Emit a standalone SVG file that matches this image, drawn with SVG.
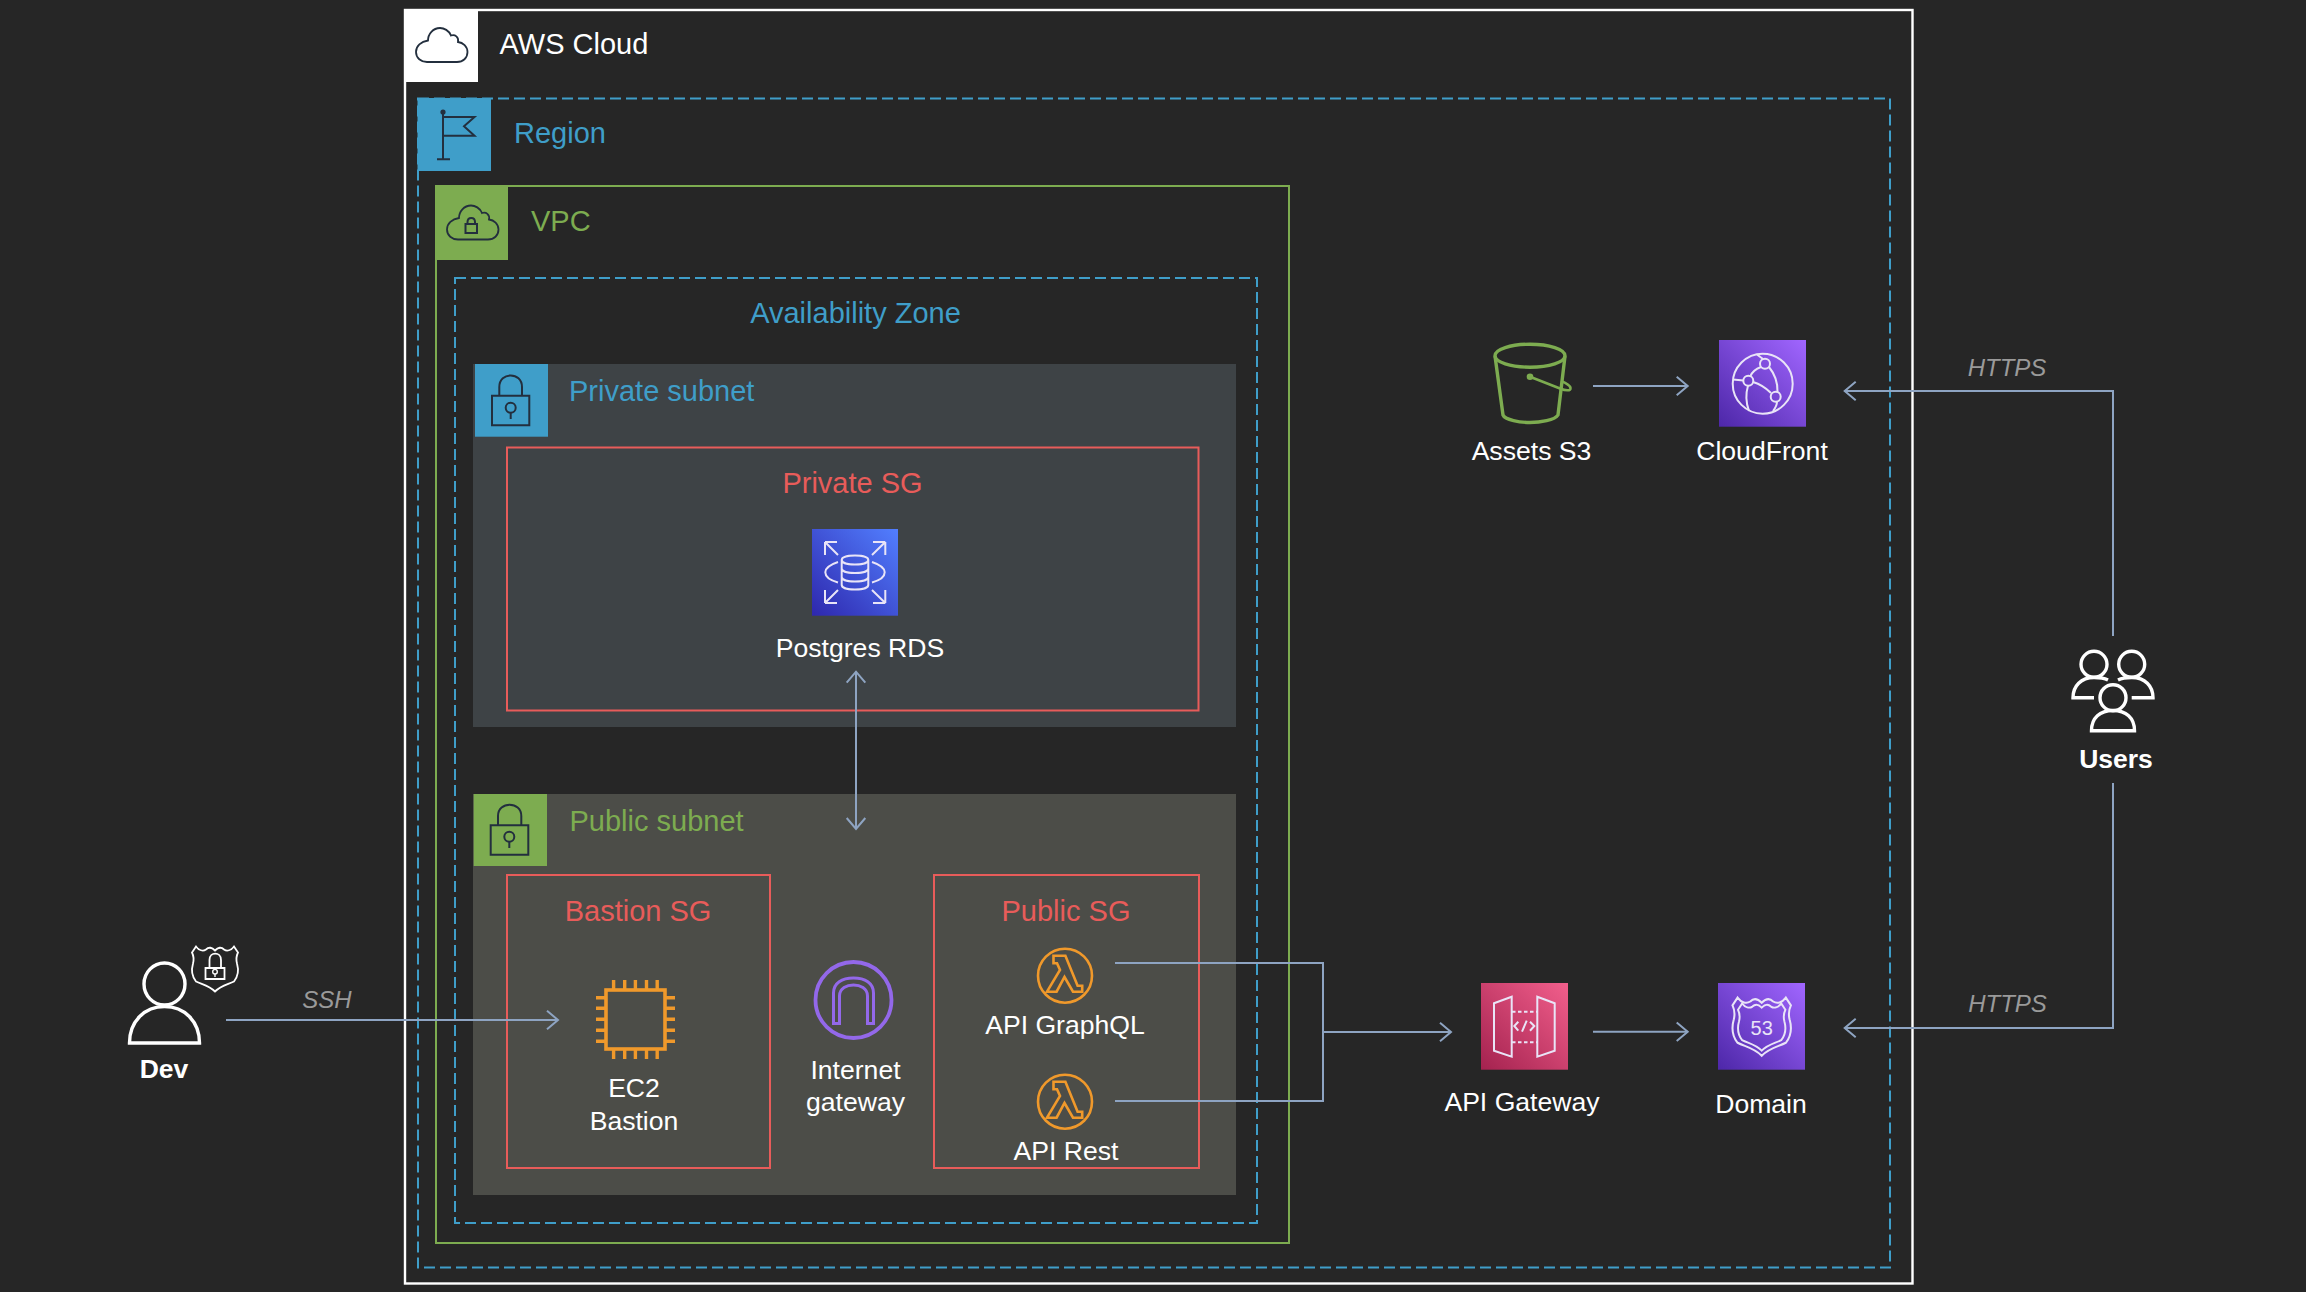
<svg xmlns="http://www.w3.org/2000/svg" width="2306" height="1292" viewBox="0 0 2306 1292">
<style>
text{font-family:"Liberation Sans",Arial,Helvetica,sans-serif}
.t{font-size:29px}
.l{font-size:26.6px;fill:#fff;text-anchor:middle}
.b{font-size:26.5px;font-weight:700;fill:#fff;text-anchor:middle}
.i{font-size:24px;font-style:italic;fill:#9a9a9a;text-anchor:middle}
.sg{fill:none;stroke:#e85c5a;stroke-width:2}
.sgt{fill:#e85c5a;text-anchor:middle}
.dash{fill:none;stroke:#3f9ec9;stroke-width:2;stroke-dasharray:11 5}
.ic{fill:none;stroke:#232f3e;stroke-width:2}
.wi{fill:none;stroke:#fff;stroke-width:3.4}
.gl{fill:none;stroke:#e9e4f7;stroke-width:2}
.or{fill:none;stroke:#f0992b;stroke-width:2.6}
.conn{fill:none;stroke:#8ea4c2;stroke-width:2}
</style>
<defs>
<marker id="ah" markerUnits="userSpaceOnUse" viewBox="-14 -11 16 22" refX="0" refY="0" markerWidth="16" markerHeight="22" orient="auto-start-reverse" overflow="visible"><path d="M-11,-9.3 L0,0 L-11,9.3" fill="none" stroke="#8ea4c2" stroke-width="2"/></marker>
<linearGradient id="gBlue" x1="0" y1="1" x2="1" y2="0"><stop offset="0" stop-color="#2e27ad"/><stop offset="1" stop-color="#527fff"/></linearGradient>
<linearGradient id="gPurple" x1="0" y1="1" x2="1" y2="0"><stop offset="0" stop-color="#4d27a8"/><stop offset="1" stop-color="#a166ff"/></linearGradient>
<linearGradient id="gPink" x1="0" y1="1" x2="1" y2="0"><stop offset="0" stop-color="#a4224f"/><stop offset="1" stop-color="#f25f8c"/></linearGradient>
<path id="cloud" d="M11,34 H41 C47,34 51.500,30 51.500,24 C51.500,18.500 47,14.500 42,14 C43,9 39,6 35,7.500 C33,2.500 28,0 24,0 C17,0 12,6 12,12.500 C5,13.500 0,18 0,24 C0,30 5,34 11,34 Z"/>
<g id="lambda"><circle cx="0" cy="0" r="27" class="or"/><path class="or" stroke-width="2.2" d="M-11.500,-20 H0.400 L12.600,10 H17.200 V16 H8 L-0.500,1.300 L-8.400,16 H-18 L-5,-5.700 L-8,-12.400 H-11.500 Z"/></g>
<path id="shield" d="M0,-18 C3,-21 6,-22 9,-19 C12,-17 16,-18 19,-22 L23,-16 C21,-12 21,-9 22,-5 C24,2 23,8 19,13 C13,16 6,17 0,23 C-6,17 -13,16 -19,13 C-23,8 -24,2 -22,-5 C-21,-9 -21,-12 -23,-16 L-19,-22 C-16,-18 -12,-17 -9,-19 C-6,-22 -3,-21 0,-18 Z"/>
</defs>
<rect width="2306" height="1292" fill="#262626"/>

<g id="aws-cloud">
<rect x="405" y="10" width="1507.500" height="1273.500" fill="none" stroke="#fff" stroke-width="2.400"/>
<rect x="404" y="9" width="74" height="73" fill="#fff"/>
<use href="#cloud" x="416" y="28" fill="none" stroke="#232f3e" stroke-width="1.800"/>
<text x="499.500" y="54" class="t" fill="#fff">AWS Cloud</text>
</g>

<g id="region">
<rect x="418" y="98.500" width="1472" height="1169" class="dash"/>
<rect x="417.500" y="98" width="73.500" height="73" fill="#3f9ec9"/>
<path class="ic" d="M443,112 V159.300 M437,159.300 H450 M443,117 H474.500 L464,126.300 L474.500,135.700 H443"/>
<circle cx="443" cy="112" r="2.600" fill="#232f3e"/>
<text x="514" y="143" class="t" fill="#3f9ec9">Region</text>
</g>

<g id="vpc">
<rect x="436" y="186" width="853" height="1057" fill="none" stroke="#7dac50" stroke-width="2"/>
<rect x="435" y="185" width="73" height="75" fill="#7dac50"/>
<use href="#cloud" x="447" y="205.500" fill="none" stroke="#232f3e" stroke-width="1.800"/>
<path class="ic" stroke-width="1.600" d="M465.500,224 H477 V233 H465.500 Z M467.500,224 V222 C467.500,216.500 475,216.500 475,222 V224"/>
<text x="531" y="231" class="t" fill="#7dac50">VPC</text>
</g>

<g id="availability-zone">
<rect x="455" y="278" width="802" height="945" class="dash"/>
<text x="855.500" y="323" class="t" fill="#3f9ec9" text-anchor="middle">Availability Zone</text>
</g>

<g id="private-subnet">
<rect x="473" y="364" width="763" height="363" fill="#3e4346"/>
<rect x="475" y="364" width="73" height="72.700" fill="#3f9ec9"/>
<path class="ic" d="M492,395.700 H529.300 V425.300 H492 Z M499.300,395.700 V387 C499.300,371.500 522,371.500 522,387 V395.700"/>
<circle cx="510.700" cy="407.700" r="5" class="ic"/><path class="ic" d="M510.700,412.700 V419"/>
<text x="569" y="401" class="t" fill="#3f9ec9">Private subnet</text>
</g>

<g id="private-sg">
<rect x="507" y="447.500" width="691.500" height="263" class="sg"/>
<text x="852.500" y="493" class="t sgt">Private SG</text>
</g>

<g id="postgres-rds">
<rect x="812" y="529" width="86" height="86.700" fill="url(#gBlue)"/>
<path class="gl" d="M841.700,560 V585 C841.700,591 868.300,591 868.300,585 V560 M841.700,560 C841.700,554 868.300,554 868.300,560 C868.300,566 841.700,566 841.700,560 Z M841.700,568.500 C841.700,574.500 868.300,574.500 868.300,568.500 M841.700,577 C841.700,583 868.300,583 868.300,577 M838,562 C829,565 825.300,569 825.300,572.300 C825.300,576 829,580 838,582.500 M872,562 C881,565 884.700,569 884.700,572.300 C884.700,576 881,580 872,582.500"/>
<path class="gl" d="M825,542 L838,555 M825,542 H837 M825,542 V555 M885.300,542 L872,555 M885.300,542 H873 M885.300,542 V555 M825,603 L838,590 M825,603 H837 M825,603 V590 M885.300,603 L872,590 M885.300,603 H873 M885.300,603 V590"/>
<text x="860" y="657" class="l">Postgres RDS</text>
</g>

<g id="public-subnet">
<rect x="473" y="794" width="763" height="401" fill="#4c4d48"/>
<rect x="473.700" y="794" width="73.300" height="72" fill="#7dac50"/>
<path class="ic" d="M490.700,825.300 H528.300 V854.700 H490.700 Z M498,825.300 V816 C498,801 521.300,801 521.300,816 V825.300"/>
<circle cx="509.300" cy="836.700" r="5" class="ic"/><path class="ic" d="M509.300,841.700 V848"/>
<text x="569.500" y="830.500" class="t" fill="#7dac50">Public subnet</text>
</g>

<g id="bastion-sg">
<rect x="507" y="875" width="263" height="293" class="sg"/>
<text x="638" y="921" class="t sgt">Bastion SG</text>
</g>

<g id="public-sg">
<rect x="934" y="875" width="265" height="293" class="sg"/>
<text x="1066" y="921" class="t sgt">Public SG</text>
</g>

<g id="ec2-bastion">
<rect x="606" y="990" width="59" height="59" fill="none" stroke="#f0992b" stroke-width="3.600"/>
<path fill="none" stroke="#f0992b" stroke-width="3.400" d="M613.600,980 V990 M624.700,980 V990 M635.400,980 V990 M646.500,980 V990 M657.200,980 V990 M613.600,1049 V1059 M624.700,1049 V1059 M635.400,1049 V1059 M646.500,1049 V1059 M657.200,1049 V1059 M596,997.700 H606 M596,1008.300 H606 M596,1019.300 H606 M596,1030.300 H606 M596,1041.300 H606 M665,997.700 H675 M665,1008.300 H675 M665,1019.300 H675 M665,1030.300 H675 M665,1041.300 H675"/>
<text x="634" y="1097" class="l">EC2</text>
<text x="634" y="1129.500" class="l">Bastion</text>
</g>

<g id="internet-gateway">
<ellipse cx="853.500" cy="1000" rx="38" ry="38" fill="none" stroke="#9368ea" stroke-width="3.800"/>
<path fill="none" stroke="#9368ea" stroke-width="3" d="M833.500,1023.500 V993 C833.500,983 842,978 853.500,978 C865,978 873.500,983 873.500,993 V1023.500 H867.500 V996 C867.500,988 860,985 853.500,985 C847,985 839.500,988 839.500,996 V1023.500 Z"/>
<text x="855.500" y="1079" class="l">Internet</text>
<text x="855.500" y="1111" class="l">gateway</text>
</g>

<g id="api-graphql">
<use href="#lambda" x="1065" y="975.700"/>
<text x="1065" y="1034" class="l">API GraphQL</text>
</g>

<g id="api-rest">
<use href="#lambda" x="1065" y="1101.700"/>
<text x="1066" y="1160" class="l">API Rest</text>
</g>

<g id="dev">
<ellipse cx="164.500" cy="984" rx="20.500" ry="21" class="wi"/>
<path class="wi" d="M129.500,1043 C129.500,1021 145,1006.500 164.500,1006.500 C184,1006.500 199.500,1021 199.500,1043 Z"/>
<use href="#shield" x="215" y="968.500" fill="none" stroke="#fff" stroke-width="1.800"/>
<path fill="none" stroke="#fff" stroke-width="1.800" d="M205.500,968 H224.500 V979 H205.500 Z M209.500,968 V960 C209.500,951.500 221,951.500 221,960 V968"/>
<circle cx="215" cy="971.700" r="2.300" fill="none" stroke="#fff" stroke-width="1.400"/><path stroke="#fff" stroke-width="1.400" d="M215,974 V977"/>
<text x="164" y="1078" class="b">Dev</text>
</g>

<g id="assets-s3">
<ellipse cx="1530" cy="355.700" rx="35" ry="11.500" fill="none" stroke="#7dac50" stroke-width="3.400"/>
<path fill="none" stroke="#7dac50" stroke-width="3.400" d="M1495,356 L1503,415 C1505,420 1520,422.500 1530,422.500 C1540,422.500 1555,420 1558,415 L1565,356"/>
<circle cx="1530" cy="376.700" r="3.300" fill="#7dac50"/>
<path fill="none" stroke="#7dac50" stroke-width="2.600" d="M1530,376.700 L1560,388.500 C1566,391 1571,391 1570.500,388 C1570,385 1566,383 1561,381"/>
<text x="1531.500" y="460" class="l">Assets S3</text>
</g>

<g id="cloudfront">
<rect x="1719" y="340" width="87" height="86.700" fill="url(#gPurple)"/>
<circle cx="1762.700" cy="383.700" r="30" class="gl"/>
<circle cx="1765" cy="363.700" r="5" class="gl"/><circle cx="1748.300" cy="380.700" r="5" class="gl"/><circle cx="1775.700" cy="396.700" r="5" class="gl"/>
<path class="gl" d="M1748,385.700 C1745.500,394 1746,403 1749,411 M1753,382 Q1763,385 1771,393 M1761,367 Q1753,370 1750.500,376 M1769,367 Q1778,378 1777.500,392 M1733,379.500 L1743.500,380.500 M1757,354.500 L1763,359 M1777,401.500 Q1777,406 1773,411"/>
<text x="1762" y="460" class="l">CloudFront</text>
</g>

<g id="api-gateway">
<rect x="1481" y="983" width="87" height="86.700" fill="url(#gPink)"/>
<path class="gl" d="M1494,1003.300 L1511.700,996.700 V1056.700 L1494,1050.700 Z M1537.300,996.700 L1554.700,1003.300 V1050.700 L1537.300,1056.700 Z"/>
<path class="gl" stroke-dasharray="3.500 2.500" d="M1512,1011.700 H1537 M1512,1042.300 H1537"/>
<path class="gl" d="M1518.300,1021.700 L1514.300,1026 L1518.300,1030.700 M1526.700,1020.700 L1522,1031.700 M1530,1021.700 L1534.300,1026 L1530,1030.700"/>
<text x="1522" y="1110.500" class="l">API Gateway</text>
</g>

<g id="domain">
<rect x="1718" y="983" width="87" height="86.700" fill="url(#gPurple)"/>
<use href="#shield" transform="translate(1761.700 1026) scale(1.270 1.290)" fill="none" stroke="#e9e4f7" stroke-width="1.600"/>
<use href="#shield" transform="translate(1761.700 1026.500) scale(1.030 1.050)" fill="none" stroke="#e9e4f7" stroke-width="1.900"/>
<text x="1761.700" y="1035" font-size="20" fill="#e9e4f7" text-anchor="middle">53</text>
<text x="1761" y="1112.500" class="l">Domain</text>
</g>

<g id="users">
<circle cx="2094" cy="664.300" r="13" class="wi"/><circle cx="2131.700" cy="664.300" r="13" class="wi"/><circle cx="2113" cy="697.700" r="13" class="wi"/>
<path class="wi" d="M2108,680 C2104,678 2099,677.500 2094,677.500 C2081,677.500 2073,686 2073,697.700 H2094 M2118,680 C2122,678 2127,677.500 2131.700,677.500 C2145,677.500 2153,686 2153,697.700 H2131.700"/>
<path class="wi" d="M2091.500,730.700 C2091.500,718 2100,710.500 2113,710.500 C2126,710.500 2134.500,718 2134.500,730.700 Z"/>
<text x="2116" y="768" class="b">Users</text>
</g>

<g id="connectors">
<path class="conn" d="M226,1020 H558" marker-end="url(#ah)"/>
<path class="conn" d="M856,671.700 V829" marker-start="url(#ah)" marker-end="url(#ah)"/>
<path class="conn" d="M1115,963 H1323 V1101 H1115"/>
<path class="conn" d="M1323,1032 H1451" marker-end="url(#ah)"/>
<path class="conn" d="M1593,386 H1687.700" marker-end="url(#ah)"/>
<path class="conn" d="M1593,1031.700 H1687.700" marker-end="url(#ah)"/>
<path class="conn" d="M2113,636 V391 H1844.700" marker-end="url(#ah)"/>
<path class="conn" d="M2113,783 V1028 H1844.700" marker-end="url(#ah)"/>
<text x="327" y="1008" class="i">SSH</text>
<text x="2007" y="375.500" class="i">HTTPS</text>
<text x="2007.500" y="1011.500" class="i">HTTPS</text>
</g>
</svg>
